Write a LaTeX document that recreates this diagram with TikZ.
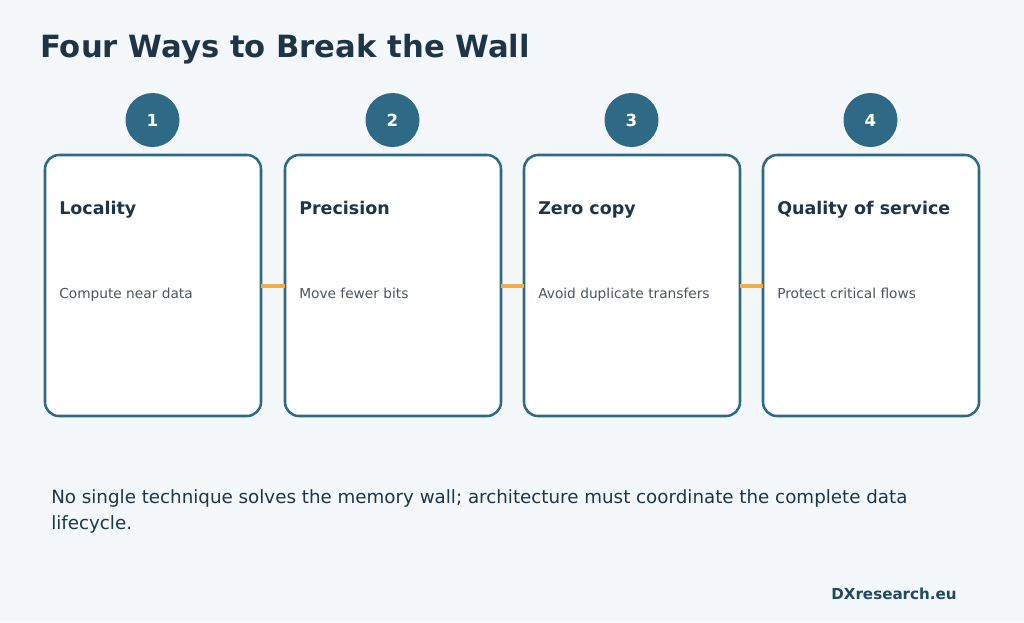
\documentclass[tikz,border=0pt]{standalone}
\usepackage{fontspec}
\setmainfont{DejaVu Sans}
\begin{document}
\begin{tikzpicture}[x=0.75pt,y=-0.75pt,
 card/.style={draw=cardc,line width=1.9pt,rounded corners=10.5pt,fill=white},
 num/.style={circle,fill=cardc,minimum size=40.5pt,inner sep=0pt,text=white,font=\bfseries\fontsize{12.5pt}{14pt}\selectfont},
 ttl/.style={anchor=base west,text=titc,font=\bfseries\fontsize{13.1pt}{15pt}\selectfont,inner sep=0pt},
 body/.style={anchor=base west,text=bodyc,font=\fontsize{10.3pt}{12pt}\selectfont,inner sep=0pt},
 link/.style={draw=linkc,line width=2.6pt}]
\definecolor{bg}{HTML}{F5F8FA}
\definecolor{cardc}{HTML}{2E6A85}
\definecolor{titc}{HTML}{1F3547}
\definecolor{bodyc}{HTML}{4A5560}
\definecolor{linkc}{HTML}{F0AD4E}
\fill[bg] (0,0) rectangle (1024,622);
\useasboundingbox (0,0) rectangle (1024,622);
\node[anchor=base west,text=titc,font=\bfseries\fontsize{23pt}{26pt}\selectfont,inner sep=0pt] (title) at (40,57) {Four Ways to Break the Wall};
\foreach \i/\x/\t/\b in {1/45/Locality/Compute near data,2/285/Precision/Move fewer bits,3/524/Zero copy/Avoid duplicate transfers,4/763/Quality of service/Protect critical flows}{
 \draw[card] (\x,155) rectangle (\x+216,416);
 \node[num] (n\i) at (\x+107.5,120) {\i};
 \node[ttl] (t\i) at (\x+14,214) {\t};
 \node[body] (b\i) at (\x+14,298) {\b};
 \coordinate (L\i) at (\x,286);
 \coordinate (R\i) at (\x+216,286);
}
\draw[link] (R1) -- (L2);
\draw[link] (R2) -- (L3);
\draw[link] (R3) -- (L4);
\node[anchor=base west,text=titc,align=left,font=\fontsize{13.7pt}{19pt}\selectfont,inner sep=0pt] (note) at (51,529) {No single technique solves the memory wall; architecture must coordinate the complete data\\lifecycle.};
\node[anchor=base east,text=cardc!70!black,font=\bfseries\fontsize{11.35pt}{13pt}\selectfont,inner sep=0pt] (foot) at (957,599) {DXresearch.eu};
\end{tikzpicture}
\end{document}
